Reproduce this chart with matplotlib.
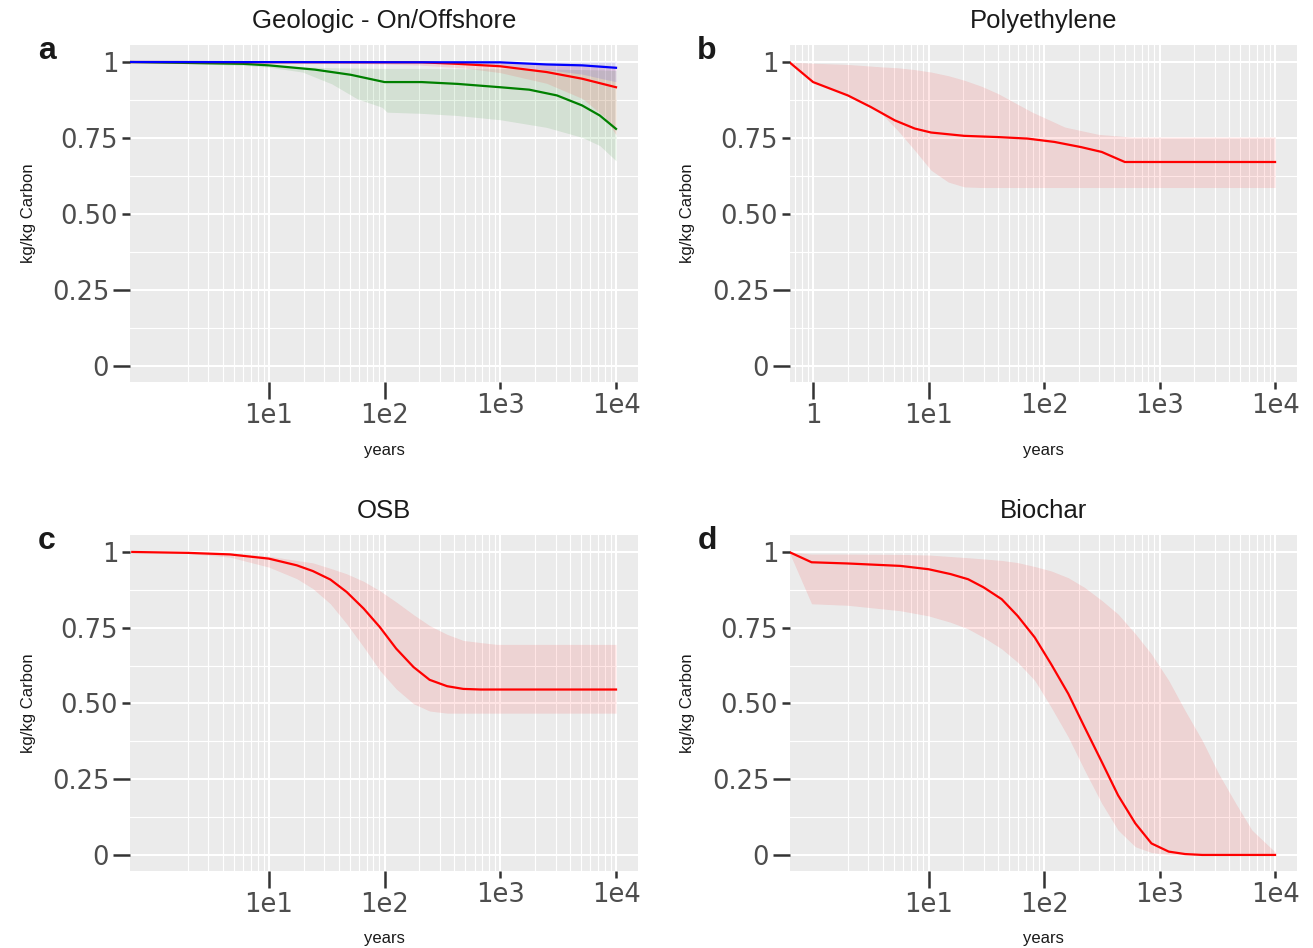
import matplotlib
matplotlib.use("Agg")
import matplotlib.pyplot as plt
from matplotlib.ticker import FixedLocator, FixedFormatter

# ---- data (years, kg/kg carbon) ----
# a: Geologic - On/Offshore
geo_green_t = [0.63, 6, 10, 25, 51, 100, 209, 427, 1000, 1778, 3090, 5100, 7240, 10000]
geo_green = [1.0, 0.994, 0.989, 0.975, 0.958, 0.934, 0.934, 0.928, 0.917, 0.909, 0.89, 0.857, 0.824, 0.78]
geo_green_rt = [0.63, 6, 10, 19.5, 35, 58, 95, 105, 209, 427, 1000, 2512, 5100, 7240, 10000]
geo_green_lo = [1.0, 0.989, 0.983, 0.967, 0.928, 0.879, 0.851, 0.835, 0.831, 0.824, 0.81, 0.785, 0.752, 0.725, 0.675]
geo_green_hi = [1.0, 0.997, 0.99, 0.984, 0.981, 0.98, 0.979, 0.979, 0.979, 0.978, 0.978, 0.977, 0.975, 0.974, 0.972]

geo_red_t = [0.63, 209, 427, 1000, 2512, 5100, 10000]
geo_red = [1.0, 0.999, 0.994, 0.986, 0.967, 0.945, 0.917]
geo_red_rt = [0.63, 32, 200, 500, 1000, 2512, 5100, 7940, 10000]
geo_red_lo = [1.0, 0.998, 0.99, 0.98, 0.965, 0.93, 0.88, 0.82, 0.76]
geo_red_hi = [1.0, 1.0, 1.0, 0.999, 0.998, 0.995, 0.993, 0.99, 0.988]

geo_blue_t = [0.63, 1000, 2512, 5100, 10000]
geo_blue = [1.0, 0.999, 0.992, 0.989, 0.981]
geo_blue_rt = [0.63, 316, 1000, 2512, 5100, 10000]
geo_blue_lo = [1.0, 0.998, 0.99, 0.975, 0.96, 0.935]
geo_blue_hi = [1.0, 1.0, 1.0, 1.0, 1.0, 1.0]

# b: Polyethylene
pe_t = [0.62, 1, 2, 3.16, 5.1, 7.6, 10.5, 20.4, 40, 72, 123, 209, 316, 500, 10000]
pe = [1.0, 0.934, 0.89, 0.852, 0.808, 0.781, 0.768, 0.757, 0.753, 0.748, 0.737, 0.72, 0.704, 0.671, 0.671]
pe_rt = [0.62, 1, 2, 2.8, 3.9, 5.4, 7.6, 10.5, 14.8, 20.4, 28.8, 40, 78, 151, 295, 575, 10000]
pe_lo = [1.0, 0.934, 0.89, 0.868, 0.83, 0.775, 0.709, 0.644, 0.605, 0.589, 0.587, 0.587, 0.587, 0.587, 0.587, 0.587, 0.587]
pe_hi = [1.0, 0.996, 0.992, 0.988, 0.984, 0.981, 0.975, 0.967, 0.955, 0.94, 0.92, 0.896, 0.836, 0.786, 0.762, 0.753, 0.753]

# c: OSB
osb_t = [0.66, 2, 4.6, 10, 17.4, 24, 34, 47, 66, 91, 126, 178, 245, 347, 479, 676, 10000]
osb = [1.0, 0.997, 0.992, 0.978, 0.956, 0.937, 0.909, 0.868, 0.813, 0.752, 0.681, 0.62, 0.578, 0.557, 0.548, 0.546, 0.546]
osb_rt = [0.66, 2, 4.6, 10, 17.4, 24, 34, 47, 66, 91, 126, 178, 245, 347, 479, 676, 933, 10000]
osb_lo = [1.0, 0.995, 0.983, 0.95, 0.912, 0.879, 0.829, 0.763, 0.686, 0.609, 0.548, 0.499, 0.475, 0.468, 0.468, 0.468, 0.468, 0.468]
osb_hi = [1.0, 0.999, 0.997, 0.986, 0.972, 0.964, 0.946, 0.928, 0.903, 0.872, 0.835, 0.793, 0.757, 0.728, 0.708, 0.701, 0.695, 0.695]

# d: Biochar
bc_t = [0.62, 0.97, 2, 5.7, 10, 15.5, 22, 30, 43, 59, 83, 115, 162, 224, 316, 437, 617, 851, 1200, 1660, 2340, 10000]
bc = [1.0, 0.966, 0.962, 0.954, 0.943, 0.927, 0.91, 0.883, 0.844, 0.789, 0.718, 0.63, 0.532, 0.422, 0.307, 0.197,
      0.104, 0.038, 0.011, 0.003, 0.0, 0.0]
bc_rt = [0.62, 0.97, 2, 5.7, 10, 15.5, 22, 30, 43, 59, 83, 115, 162, 224, 316, 437, 617, 851, 1200, 1660, 2340,
         3240, 4570, 6310, 10000]
bc_lo = [1.0, 0.829, 0.824, 0.806, 0.789, 0.768, 0.746, 0.718, 0.68, 0.636, 0.576, 0.488, 0.389, 0.28, 0.17, 0.082,
         0.027, 0.008, 0.001, 0.0, 0.0, 0.0, 0.0, 0.0, 0.0]
bc_hi = [1.0, 0.993, 0.993, 0.992, 0.99, 0.985, 0.981, 0.977, 0.972, 0.965, 0.952, 0.9375, 0.915, 0.883, 0.84, 0.795,
         0.73, 0.663, 0.576, 0.477, 0.378, 0.269, 0.17, 0.082, 0.01]

Y_BREAKS_LONG = [0, 0.25]
Y_LABELS_LONG = ['0', '0.25']
Y_BREAKS_SHORT = [0.5, 0.75, 1]
Y_LABELS_SHORT = ['0.50', '0.75', '1']

W, H = 1313, 948
fig = plt.figure(figsize=(W / 100, H / 100), dpi=100)
TICK_COL = '#333333'
LAB_COL = '#4D4D4D'


def rect(x0, y0, x1, y1):
    return [x0 / W, 1 - y1 / H, (x1 - x0) / W, (y1 - y0) / H]


def setup(ax, title, letter, xlong, xlong_lab, xshort, xshort_lab, grid_from_one):
    ax.set_facecolor('#EBEBEB')
    ax.set_xscale('log')
    ax.set_xlim(10 ** -0.2, 10 ** 4.19)
    ax.set_ylim(-0.053, 1.056)
    for s in ax.spines.values():
        s.set_visible(False)

    # ggplot-like white grid
    for e in range(-1, 5):
        for k in range(1, 10):
            v = k * 10.0 ** e
            if not grid_from_one and v < 2:
                continue
            ax.axvline(v, color='white', lw=1.5 if k == 1 else 0.8, zorder=0)
    for v in [0, 0.25, 0.5, 0.75, 1]:
        ax.axhline(v, color='white', lw=1.5, zorder=0)
    for v in [0.125, 0.375, 0.625, 0.875]:
        ax.axhline(v, color='white', lw=0.8, zorder=0)

    ax.xaxis.set_major_locator(FixedLocator(xlong))
    ax.xaxis.set_major_formatter(FixedFormatter(xlong_lab))
    ax.xaxis.set_minor_locator(FixedLocator(xshort))
    ax.xaxis.set_minor_formatter(FixedFormatter(xshort_lab))
    ax.yaxis.set_major_locator(FixedLocator(Y_BREAKS_LONG))
    ax.yaxis.set_major_formatter(FixedFormatter(Y_LABELS_LONG))
    ax.yaxis.set_minor_locator(FixedLocator(Y_BREAKS_SHORT))
    ax.yaxis.set_minor_formatter(FixedFormatter(Y_LABELS_SHORT))
    ax.tick_params(axis='both', which='both', width=1.8, color=TICK_COL,
                   labelcolor=LAB_COL, labelsize=18.5)
    ax.tick_params(axis='x', which='major', length=12, pad=3)
    ax.tick_params(axis='x', which='minor', length=5, pad=3)
    ax.tick_params(axis='y', which='major', length=12, pad=3)
    ax.tick_params(axis='y', which='minor', length=5.5, pad=3)

    ax.set_title(title, fontsize=18.5, family='Liberation Sans', color='#1A1A1A', pad=12)
    pos = ax.get_position()
    fig.text(pos.x0 - 83 / W, pos.y1 - 6 / H, letter, fontsize=23, fontweight='bold',
             family='Liberation Sans', color='#1A1A1A', ha='center', va='center')
    fig.text(pos.x0 - 102 / W, (pos.y0 + pos.y1) / 2, 'kg/kg Carbon', rotation=90,
             fontsize=12, family='Liberation Sans', color='#1A1A1A', ha='center', va='center')
    fig.text((pos.x0 + pos.x1) / 2, pos.y0 - 68 / H, 'years', fontsize=12,
             family='Liberation Sans', color='#1A1A1A', ha='center', va='center')


def ribbon(ax, t, lo, hi, color):
    ax.fill_between(t, lo, hi, color=color, alpha=0.1, linewidth=0, zorder=1)


# a
ax = fig.add_axes(rect(130, 45, 638, 382))
setup(ax, 'Geologic - On/Offshore', 'a', [10, 100], ['1e1', '1e2'],
      [1000, 10000], ['1e3', '1e4'], False)
ribbon(ax, geo_green_rt, geo_green_lo, geo_green_hi, 'green')
ribbon(ax, geo_red_rt, geo_red_lo, geo_red_hi, 'red')
ribbon(ax, geo_blue_rt, geo_blue_lo, geo_blue_hi, 'blue')
ax.plot(geo_green_t, geo_green, color='green', lw=1.6, zorder=3)
ax.plot(geo_red_t, geo_red, color='red', lw=1.6, zorder=3)
ax.plot(geo_blue_t, geo_blue, color='blue', lw=1.6, zorder=3)

# b
ax = fig.add_axes(rect(790, 45, 1297, 382))
setup(ax, 'Polyethylene', 'b', [1, 10], ['1', '1e1'],
      [100, 1000, 10000], ['1e2', '1e3', '1e4'], True)
ribbon(ax, pe_rt, pe_lo, pe_hi, 'red')
ax.plot(pe_t, pe, color='red', lw=1.6, zorder=3)

# c
ax = fig.add_axes(rect(130, 535, 638, 871))
setup(ax, 'OSB', 'c', [10, 100], ['1e1', '1e2'],
      [1000, 10000], ['1e3', '1e4'], False)
ribbon(ax, osb_rt, osb_lo, osb_hi, 'red')
ax.plot(osb_t, osb, color='red', lw=1.6, zorder=3)

# d
ax = fig.add_axes(rect(790, 535, 1297, 871))
setup(ax, 'Biochar', 'd', [10, 100], ['1e1', '1e2'],
      [1000, 10000], ['1e3', '1e4'], False)
ribbon(ax, bc_rt, bc_lo, bc_hi, 'red')
ax.plot(bc_t, bc, color='red', lw=1.6, zorder=3)

fig.savefig('out.png', dpi=100)
